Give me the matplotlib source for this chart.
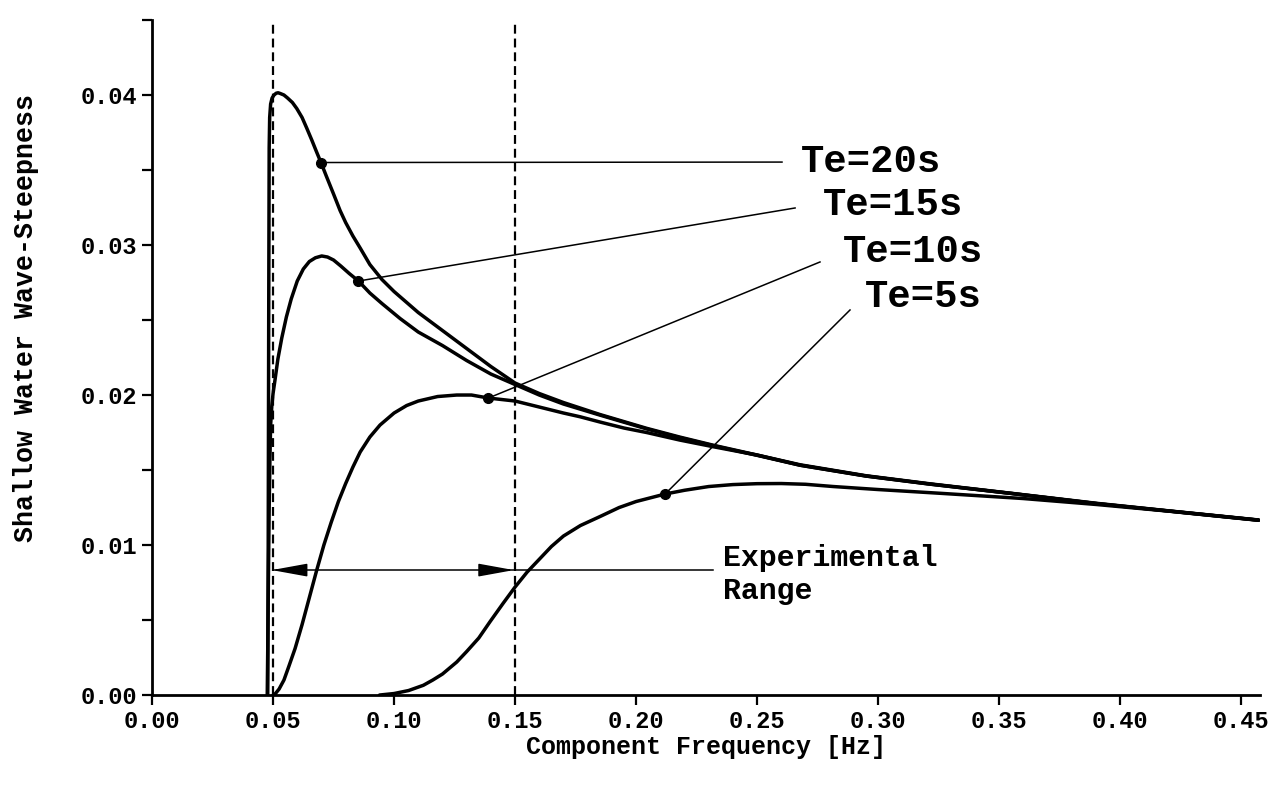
import numpy as np
import matplotlib.pyplot as plt

plt.rcParams['font.family'] = ['Liberation Mono', 'DejaVu Sans Mono']
plt.rcParams['font.weight'] = 'bold'

# steepness curves per equivalent period, frequency in Hz
freq_te20 = [0.0478, 0.0480, 0.0482, 0.0484, 0.0486, 0.0490, 0.0496, 0.0504, 0.0513, 0.0521,
             0.0530, 0.0545, 0.0560, 0.0580, 0.0598, 0.0620, 0.0639, 0.0660, 0.0680, 0.0698,
             0.0720, 0.0750, 0.0777, 0.0800, 0.0830, 0.0860, 0.0900, 0.0950, 0.1000, 0.1050,
             0.1100, 0.1200, 0.1300, 0.1400, 0.1500, 0.1600, 0.1700, 0.1851, 0.2044, 0.2180,
             0.2320, 0.2500, 0.2678, 0.2950, 0.3215, 0.3550, 0.3904, 0.4200, 0.4572]
steep_te20 = [0.0000, 0.0100, 0.0250, 0.0365, 0.0385, 0.0394, 0.0398, 0.0400, 0.04012, 0.04015,
              0.0401, 0.0400, 0.0398, 0.0395, 0.0391, 0.0385, 0.0378, 0.0370, 0.0362, 0.0355,
              0.0346, 0.0334, 0.0323, 0.0315, 0.0306, 0.0298, 0.0287, 0.0277, 0.0269, 0.0262,
              0.0255, 0.0243, 0.0231, 0.0219, 0.0208, 0.0201, 0.0195, 0.01870, 0.01778, 0.0172,
              0.01665, 0.0160, 0.01535, 0.01462, 0.01408, 0.01345, 0.01278, 0.01228, 0.01167]

freq_te15 = [0.0476, 0.0478, 0.0481, 0.0484, 0.0487, 0.0490, 0.0495, 0.0500, 0.0508, 0.0520,
             0.0536, 0.0555, 0.0575, 0.0600, 0.0625, 0.0650, 0.0675, 0.0701, 0.0725, 0.0750,
             0.0780, 0.0815, 0.0853, 0.0900, 0.0950, 0.1025, 0.1100, 0.1200, 0.1300, 0.1400,
             0.1500, 0.1600, 0.1700, 0.1851, 0.2044, 0.2180, 0.2320, 0.2500, 0.2678, 0.2950,
             0.3215, 0.3550, 0.3904, 0.4200, 0.4572]
steep_te15 = [0.0000, 0.0030, 0.0080, 0.0125, 0.0157, 0.0180, 0.0193, 0.0201, 0.0210, 0.0224,
              0.0238, 0.0252, 0.0264, 0.0276, 0.0284, 0.0289, 0.02915, 0.02927, 0.0292, 0.0290,
              0.0286, 0.0281, 0.0276, 0.0268, 0.0261, 0.0251, 0.0242, 0.0233, 0.0223, 0.0214,
              0.0207, 0.0200, 0.0194, 0.01866, 0.01774, 0.01716, 0.01662, 0.01598, 0.01532, 0.01460,
              0.01406, 0.01344, 0.01276, 0.01227, 0.01166]

freq_te10 = [0.0500, 0.0510, 0.0525, 0.0545, 0.0565, 0.0591, 0.0620, 0.0650, 0.0680, 0.0710,
             0.0740, 0.0770, 0.0800, 0.0830, 0.0860, 0.0900, 0.0942, 0.1000, 0.1052, 0.1100,
             0.1180, 0.1259, 0.1320, 0.1390, 0.1500, 0.1600, 0.1700, 0.1769, 0.1851, 0.1950,
             0.2044, 0.2180, 0.2320, 0.2500, 0.2678, 0.2950, 0.3215, 0.3550, 0.3904, 0.4200,
             0.4572]
steep_te10 = [0.0000, 0.0001, 0.0004, 0.0010, 0.0019, 0.0031, 0.0047, 0.0065, 0.0083, 0.0100,
              0.0115, 0.0129, 0.0141, 0.0152, 0.0162, 0.0172, 0.0180, 0.0188, 0.0193, 0.0196,
              0.0199, 0.0200, 0.0200, 0.0198, 0.0196, 0.0192, 0.0188, 0.01855, 0.0182, 0.0178,
              0.0175, 0.0170, 0.01655, 0.0160, 0.01532, 0.01460, 0.01406, 0.01344, 0.01276, 0.01227,
              0.01166]

freq_te5 = [0.0940, 0.1000, 0.1060, 0.1121, 0.1160, 0.1200, 0.1259, 0.1300, 0.1350, 0.1397,
            0.1450, 0.1500, 0.1550, 0.1603, 0.1650, 0.1700, 0.1770, 0.1851, 0.1930, 0.2000,
            0.2120, 0.2200, 0.2300, 0.2400, 0.2500, 0.2600, 0.2700, 0.2815, 0.3000, 0.3256,
            0.3600, 0.3904, 0.4200, 0.4572]
steep_te5 = [0.0000, 0.0001, 0.0003, 0.00065, 0.0010, 0.0014, 0.0022, 0.0029, 0.0038, 0.0049,
             0.0061, 0.0072, 0.0082, 0.0091, 0.0099, 0.0106, 0.0113, 0.0119, 0.0125, 0.0129,
             0.0134, 0.01365, 0.0139, 0.01403, 0.01409, 0.0141, 0.01405, 0.0139, 0.0137, 0.01345,
             0.0131, 0.0127, 0.01226, 0.01165]

# labelled points and where their labels go
labels = ['Te=20s', 'Te=15s', 'Te=10s', 'Te=5s']
dot_freq = [0.0698, 0.0853, 0.1390, 0.2120]
dot_steep = [0.0355, 0.0276, 0.0198, 0.0134]
leader_freq = [0.2603, 0.2657, 0.2760, 0.2884]
leader_steep = [0.03553, 0.03247, 0.02887, 0.02567]
label_freq = [0.2682, 0.2773, 0.2855, 0.2946]
label_steep = [0.03489, 0.03200, 0.02889, 0.02589]

range_lo, range_hi = 0.05, 0.15
range_steep = 0.00833

fig, ax = plt.subplots(figsize=(12.82, 7.85), dpi=100)
fig.subplots_adjust(left=0.1186, right=0.9832, bottom=0.1146, top=0.9745)

for f, s in [(freq_te20, steep_te20), (freq_te15, steep_te15),
             (freq_te10, steep_te10), (freq_te5, steep_te5)]:
    ax.plot(f, s, color='black', lw=2.5, solid_capstyle='round', solid_joinstyle='round')

# experimental range limits
for f in (range_lo, range_hi):
    ax.plot([f, f], [0, 0.045], color='black', lw=1.6, dashes=(4, 2.2))

# leaders from the curves to the labels
for i in range(len(labels)):
    ax.plot([dot_freq[i], leader_freq[i]], [dot_steep[i], leader_steep[i]], color='black', lw=1.1)
    ax.text(label_freq[i], label_steep[i], labels[i], fontsize=28, fontweight='bold',
            ha='left', va='baseline')
ax.plot(dot_freq, dot_steep, 'o', color='black', ms=7)

# double arrow for the experimental range
ax.plot([range_lo, 0.2318], [range_steep, range_steep], color='black', lw=1.1)
for tip, tail in [(range_lo - 0.0005, range_lo + 0.0124), (range_hi - 0.0005, range_hi - 0.0135)]:
    ax.annotate('', xy=(tip, range_steep), xytext=(tail, range_steep),
                arrowprops=dict(arrowstyle='-|>,head_length=1.1,head_width=0.2', mutation_scale=20,
                                color='black', lw=1.1, shrinkA=0, shrinkB=0))
ax.text(0.2360, 0.0086, 'Experimental', fontsize=21.5, fontweight='bold', ha='left', va='baseline')
ax.text(0.2360, 0.0064, 'Range', fontsize=21.5, fontweight='bold', ha='left', va='baseline')

ax.set_xlim(0, 0.458)
ax.set_ylim(0, 0.045)
ax.set_xticks(np.arange(0, 0.451, 0.05))
ax.set_xticklabels(['%.2f' % v for v in np.arange(0, 0.451, 0.05)])
yt = np.arange(0, 0.0451, 0.005)
ax.set_yticks(yt)
ax.set_yticklabels(['%.2f' % v if i % 2 == 0 else '' for i, v in enumerate(yt)])
ax.tick_params(direction='out', length=7.5, width=1.6, labelsize=17, pad=3)
for lab in ax.get_xticklabels() + ax.get_yticklabels():
    lab.set_fontweight('bold')

ax.spines['top'].set_visible(False)
ax.spines['right'].set_visible(False)
ax.spines['left'].set_linewidth(2)
ax.spines['bottom'].set_linewidth(2)

ax.set_xlabel('Component Frequency [Hz]', fontsize=18, fontweight='bold', labelpad=2)
ax.set_ylabel('Shallow Water Wave-Steepness', fontsize=19.2, fontweight='bold')
ax.yaxis.set_label_coords(-0.102, 0.5585)

plt.savefig('out.png', dpi=100)
